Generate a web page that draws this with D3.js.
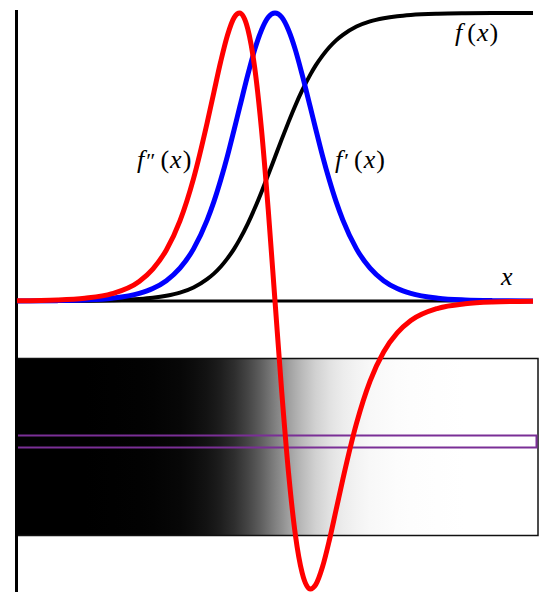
<!DOCTYPE html>
<html>
<head>
<meta charset="utf-8">
<script src="https://cdn.jsdelivr.net/npm/d3@7"></script>
<style>
  body { margin: 0; background: #fff; }
</style>
</head>
<body>
<div id="chart"></div>
<script>
// sample positions along x (arbitrary units)
const xs = [-9.5, -8, -7, -6, -5, -4.5, -4, -3.5, -3, -2.5, -2.25, -2, -1.75, -1.5, -1.3, -1, -0.75, -0.5, -0.25, 0,
  0.25, 0.5, 0.75, 1, 1.3, 1.5, 1.75, 2, 2.25, 2.5, 3, 3.5, 4, 4.5, 5, 6, 7, 8, 9.5];

// f(x) - black sigmoid
const fVals = [0.0001, 0.0003, 0.0009, 0.0025, 0.0067, 0.011, 0.018, 0.029, 0.047, 0.076, 0.095, 0.119, 0.148, 0.182, 0.214, 0.269, 0.321, 0.378, 0.438, 0.5,
  0.562, 0.622, 0.679, 0.731, 0.786, 0.818, 0.852, 0.881, 0.905, 0.924, 0.953, 0.971, 0.982, 0.989, 0.9933, 0.9975, 0.9991, 0.9997, 0.9999];

// f'(x) - blue bump
const f1Vals = [0.0003, 0.0013, 0.0036, 0.0099, 0.0266, 0.0435, 0.0707, 0.114, 0.181, 0.281, 0.345, 0.42, 0.504, 0.597, 0.673, 0.786, 0.872, 0.94, 0.985, 1,
  0.985, 0.94, 0.872, 0.786, 0.673, 0.597, 0.504, 0.42, 0.345, 0.281, 0.181, 0.114, 0.0707, 0.0435, 0.0266, 0.0099, 0.0036, 0.0013, 0.0003];

// f''(x) - red up/down
const f2Vals = [0.0008, 0.0035, 0.0095, 0.0254, 0.068, 0.111, 0.177, 0.278, 0.425, 0.618, 0.725, 0.831, 0.923, 0.985, 1.0, 0.944, 0.812, 0.598, 0.318, 0,
  -0.318, -0.598, -0.812, -0.944, -1.0, -0.985, -0.923, -0.831, -0.725, -0.618, -0.425, -0.278, -0.177, -0.111, -0.068, -0.0254, -0.0095, -0.0035, -0.0008];

const svgWidth = 550;
const svgHeight = 604;

const svg = d3.select("#chart")
  .append("svg")
  .attr("width", svgWidth)
  .attr("height", svgHeight);

const x = d3.scaleLinear()
  .domain([xs[0], xs[xs.length - 1]])
  .range([17, 533]);

const y = d3.scaleLinear()
  .domain([-1, 1])
  .range([589, 13]);

// gradient strip showing f(x) as grey level
const defs = svg.append("defs");
const grad = defs.append("linearGradient")
  .attr("id", "fgrad")
  .attr("gradientUnits", "userSpaceOnUse")
  .attr("x1", x(xs[0]))
  .attr("x2", x(xs[xs.length - 1]))
  .attr("y1", 0)
  .attr("y2", 0);

grad.selectAll("stop")
  .data(xs)
  .join("stop")
  .attr("offset", d => (x(d) - x(xs[0])) / (x(xs[xs.length - 1]) - x(xs[0])))
  .attr("stop-color", (d, i) => {
    const g = Math.round(255 * fVals[i]);
    return d3.rgb(g, g, g).toString();
  });

svg.append("rect")
  .attr("x", 17)
  .attr("y", 358.5)
  .attr("width", 521)
  .attr("height", 177)
  .attr("fill", "url(#fgrad)")
  .attr("stroke", "#111")
  .attr("stroke-width", 1.5);

svg.append("rect")
  .attr("x", 16.5)
  .attr("y", 435.5)
  .attr("width", 520)
  .attr("height", 12)
  .attr("fill", "none")
  .attr("stroke", "#7a2f96")
  .attr("stroke-width", 2);

// axes
svg.append("line")
  .attr("x1", x(xs[0]) - 1).attr("x2", x(xs[xs.length - 1]))
  .attr("y1", y(0)).attr("y2", y(0))
  .attr("stroke", "#000")
  .attr("stroke-width", 3);

svg.append("line")
  .attr("x1", 16.5).attr("x2", 16.5)
  .attr("y1", y(1.01)).attr("y2", y(-1.01))
  .attr("stroke", "#000")
  .attr("stroke-width", 3);

// curves
const line = vals => d3.line()
  .x((d, i) => x(d))
  .y((d, i) => y(vals[i]))
  .curve(d3.curveMonotoneX)(xs);

svg.append("path")
  .attr("d", line(fVals))
  .attr("fill", "none")
  .attr("stroke", "#000")
  .attr("stroke-width", 4);

svg.append("path")
  .attr("d", line(f1Vals))
  .attr("fill", "none")
  .attr("stroke", "#0000ff")
  .attr("stroke-width", 5);

svg.append("path")
  .attr("d", line(f2Vals))
  .attr("fill", "none")
  .attr("stroke", "#ff0000")
  .attr("stroke-width", 5);

// labels
const serif = "'Liberation Serif', 'DejaVu Serif', serif";

function mathLabel(px, py, primes) {
  const t = svg.append("text")
    .attr("x", px).attr("y", py)
    .attr("font-family", serif)
    .attr("font-size", 26)
    .attr("fill", "#000");
  t.append("tspan").attr("font-style", "italic").text("f");
  if (primes) t.append("tspan").attr("dx", 2).attr("font-size", 22).text(primes);
  t.append("tspan").attr("dx", 5).text("(");
  t.append("tspan").attr("dx", 1).attr("font-style", "italic").text("x");
  t.append("tspan").attr("dx", 1).text(")");
}

mathLabel(455, 41, "");
mathLabel(335, 168, "\u2032");
mathLabel(137, 168, "\u2033");

svg.append("text")
  .attr("x", 501)
  .attr("y", 285)
  .attr("font-family", serif)
  .attr("font-size", 26)
  .attr("font-style", "italic")
  .text("x");
</script>
</body>
</html>
